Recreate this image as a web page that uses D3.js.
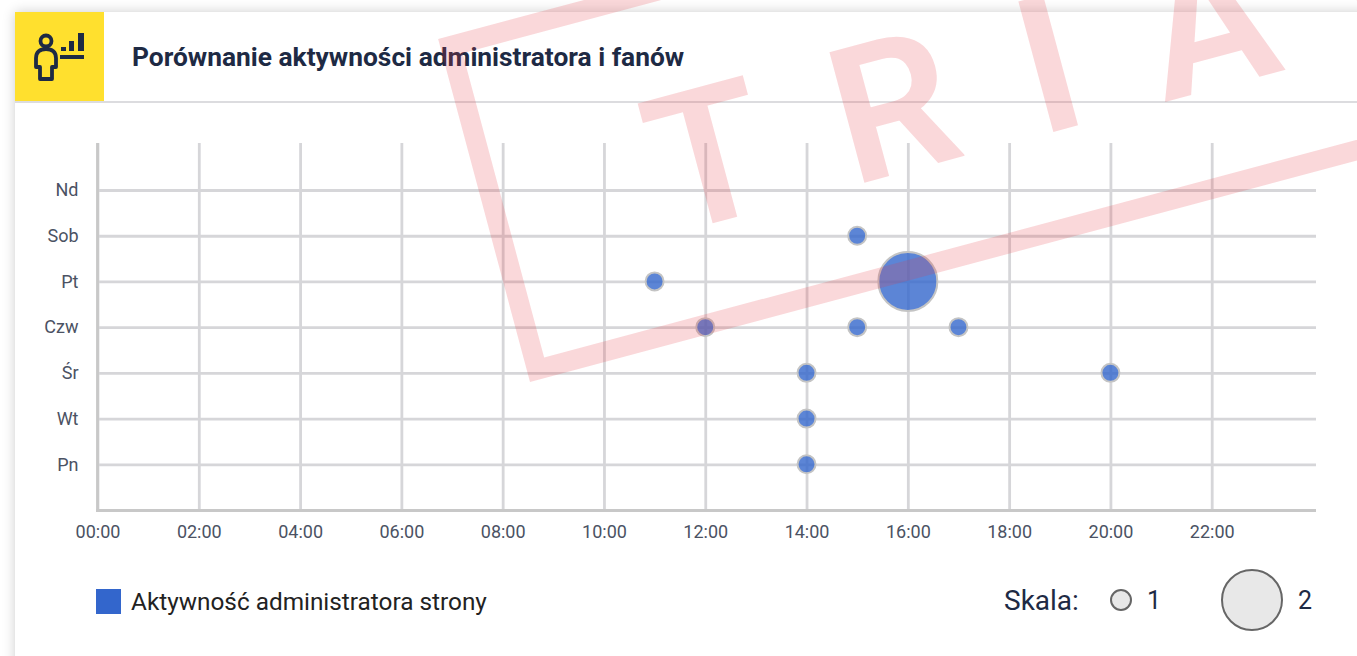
<!DOCTYPE html>
<html>
<head>
<meta charset="utf-8">
<title>Porównanie aktywności administratora i fanów</title>
<style>
html, body { margin: 0; padding: 0; background: #fff; overflow: hidden; }
#card { position: absolute; left: 15px; top: 12px; width: 1500px; height: 800px; background: #fff; box-shadow: 0 0 12px rgba(0,0,0,.2); }
svg { position: absolute; left: 0; top: 0; }
text { font-family: Roboto, sans-serif; }
.grid line { stroke: #d6d6d9; stroke-width: 2.8px; }
.grid path { display: none; }
.grid text { font-size: 18px; fill: #4b5263; }
</style>
<script src="https://d3js.org/d3.v7.min.js"></script>
</head>
<body>
<div id="card"></div>
<script>
var width = 1357, height = 656;

var days = ["Pn", "Wt", "Śr", "Czw", "Pt", "Sob", "Nd"];
var hourTicks = [0, 2, 4, 6, 8, 10, 12, 14, 16, 18, 20, 22];
var pointHours = [14, 14, 14, 20, 12, 15, 17, 11, 16, 15];
var pointDays = ["Pn", "Wt", "Śr", "Śr", "Czw", "Czw", "Czw", "Pt", "Pt", "Sob"];
var pointCounts = [1, 1, 1, 1, 1, 1, 1, 1, 2, 1];
var scaleValues = [1, 2];
var title = "Porównanie aktywności administratora i fanów";
var seriesName = "Aktywność administratora strony";

var svg = d3.select("body").append("svg")
    .attr("width", width)
    .attr("height", height);

// header
svg.append("rect").attr("x", 15).attr("y", 12).attr("width", 89).attr("height", 89).attr("fill", "#ffe02e");
svg.append("rect").attr("x", 15).attr("y", 101).attr("width", 1342).attr("height", 2).attr("fill", "#dcdcdf");
svg.append("text").attr("x", 132).attr("y", 66)
    .style("font-size", "26.35px").style("font-weight", 700).attr("fill", "#1e2a44")
    .text(title);

// icon
var icon = svg.append("g").attr("fill", "none").attr("stroke", "#1e2a44").attr("stroke-width", 3.8);
icon.append("circle").attr("cx", 46).attr("cy", 41).attr("r", 5.5);
icon.append("path").attr("stroke-linejoin", "round")
    .attr("d", "M40 79V67H36V58C36 52 40 49 46 49S56 52 56 58V67H52V79Z");
icon.append("path").attr("stroke", "none").attr("fill", "#1e2a44")
    .attr("d", "M61 47h5v4h-5zM69 41h5v10h-5zM78 33h6v18h-6zM60 55h24v4h-24z");

// scales
var x = d3.scaleLinear().domain([0, 24]).range([97.5, 1313]);
var y = d3.scaleLinear().domain([0, days.length + 1]).range([510, 144.3]);
var r = d3.scaleLinear().domain([1, 2]).range([9, 29.5]);

var xAxis = d3.axisBottom(x)
    .tickValues(hourTicks)
    .tickSize(367)
    .tickPadding(15)
    .tickFormat(function(d) { return d3.format("02")(d) + ":00"; });
var yAxis = d3.axisLeft(y)
    .tickValues(d3.range(1, days.length + 1))
    .tickSize(-1218.5)
    .tickPadding(19)
    .tickFormat(function(d) { return days[d - 1]; });

svg.append("g").attr("class", "grid").attr("transform", "translate(0,143)").call(xAxis);
svg.append("g").attr("class", "grid").attr("transform", "translate(97.5,0)").call(yAxis);

// axis lines
svg.append("line").attr("x1", 97.5).attr("x2", 97.5).attr("y1", 143).attr("y2", 511.5)
    .attr("stroke", "#c8c8c8").attr("stroke-width", 2.8);
svg.append("line").attr("x1", 96).attr("x2", 1316).attr("y1", 510.5).attr("y2", 510.5)
    .attr("stroke", "#c8c8c8").attr("stroke-width", 2.8);

// bubbles
svg.append("g").selectAll("circle")
    .data(pointHours)
  .enter().append("circle")
    .attr("cx", function(d) { return x(d); })
    .attr("cy", function(d, i) { return y(days.indexOf(pointDays[i]) + 1); })
    .attr("r", function(d, i) { return r(pointCounts[i]); })
    .attr("fill", "#3366cc")
    .attr("fill-opacity", 0.8)
    .attr("stroke", "#c4c4c4")
    .attr("stroke-width", 2);

// legend
svg.append("rect").attr("x", 96).attr("y", 589).attr("width", 25).attr("height", 25).attr("fill", "#3366cc");
svg.append("text").attr("x", 131).attr("y", 610)
    .style("font-size", "24.35px").attr("fill", "#222")
    .text(seriesName);
svg.append("text").attr("x", 1004).attr("y", 610)
    .style("font-size", "28px").attr("fill", "#1e2a44")
    .text("Skala:");

var legendX = [1121, 1252], labelX = [1147, 1298];
scaleValues.forEach(function(v, i) {
  svg.append("circle").attr("cx", legendX[i]).attr("cy", 600)
      .attr("r", v == 1 ? 10 : 30)
      .attr("fill", "#e8e8e8").attr("stroke", "#666").attr("stroke-width", 2);
  svg.append("text").attr("x", labelX[i]).attr("y", 609)
      .style("font-size", "25px").attr("fill", "#1e2a44")
      .text(v);
});

// trial watermark
var mark = svg.append("g")
    .attr("transform", "rotate(-15 530 382)")
    .attr("fill", "rgb(230,60,70)")
    .attr("fill-opacity", 0.2)
    .style("pointer-events", "none");
mark.append("path").attr("fill-rule", "evenodd")
    .attr("d", "M530 27H1800V382H530ZM550 47V362H1780V47Z");
mark.append("text")
    .attr("x", 702)
    .attr("y", 276)
    .style("font-weight", 600)
    .style("font-size", "190px")
    .style("letter-spacing", "73px")
    .text("TRIAL");
</script>
</body>
</html>
